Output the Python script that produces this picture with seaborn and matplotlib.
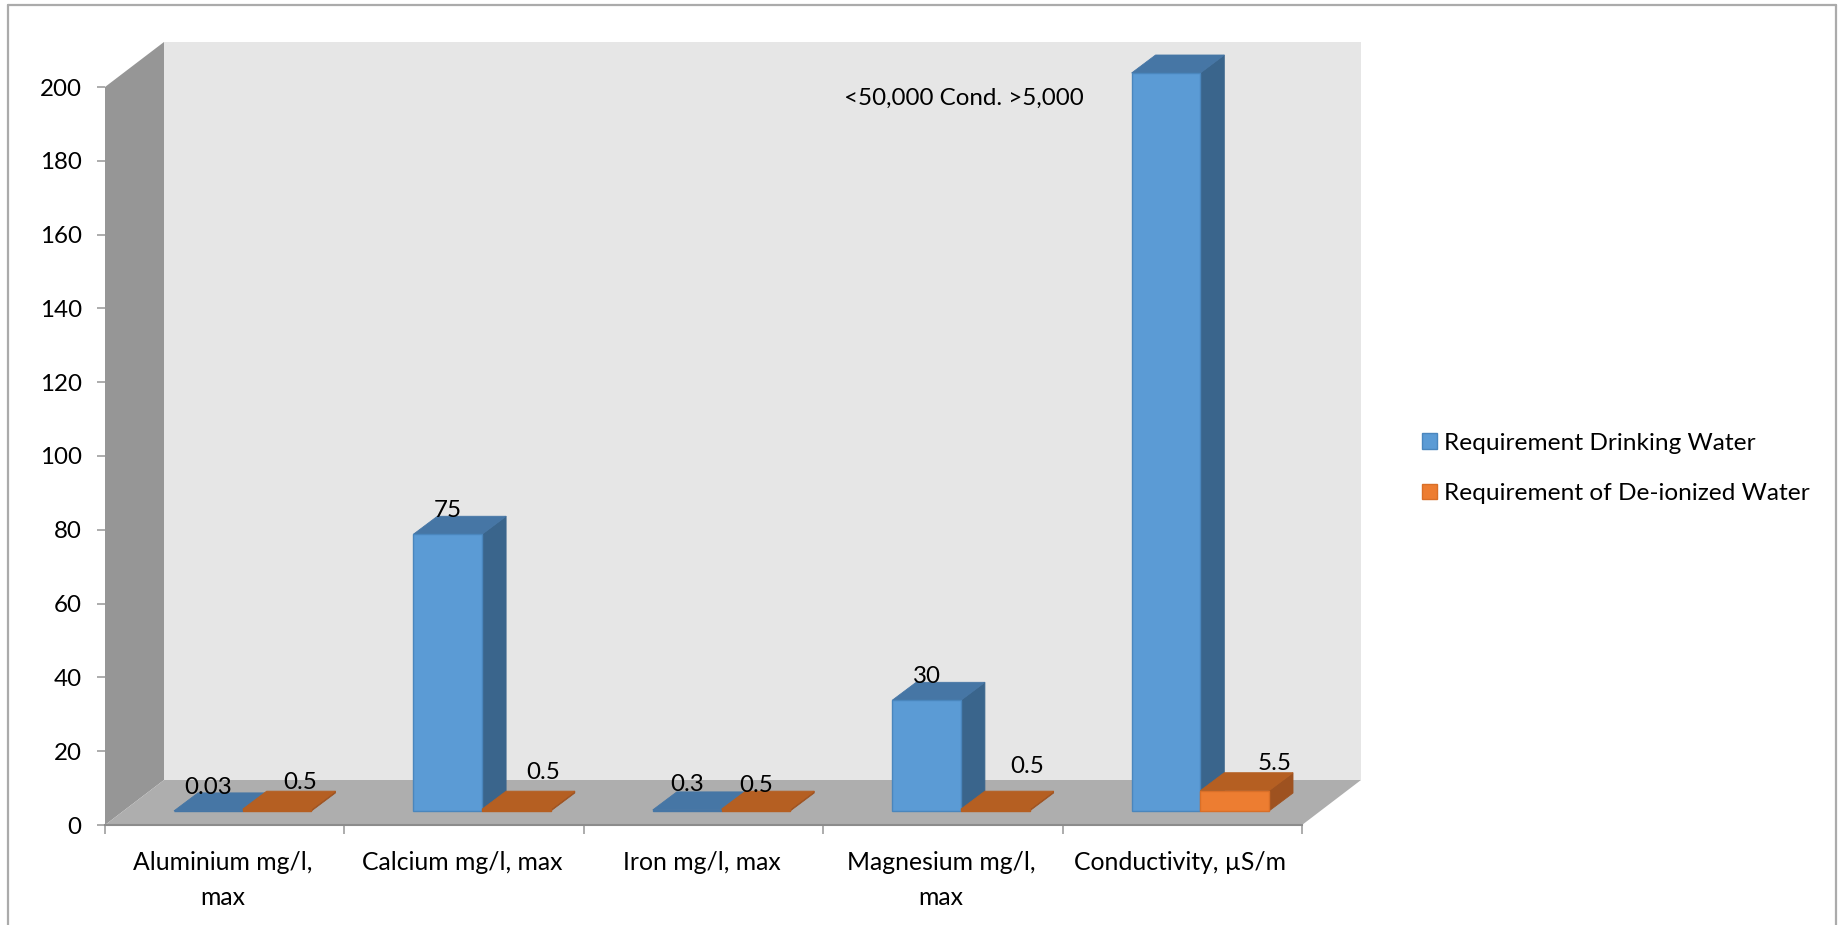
import matplotlib
matplotlib.use("Agg")
import matplotlib.pyplot as plt
import numpy as np
import pandas as pd
import seaborn as sns
from matplotlib.lines import Line2D
from matplotlib.patches import Polygon
from matplotlib.transforms import Affine2D, IdentityTransform

# ---- chart values ----
parameters = ["Aluminium mg/l, max", "Calcium mg/l, max", "Iron mg/l, max",
              "Magnesium mg/l, max", "Conductivity, µS/m"]
tick_labels = ["Aluminium mg/l,\nmax", "Calcium mg/l, max", "Iron mg/l, max",
               "Magnesium mg/l,\nmax", "Conductivity, µS/m"]
drinking_water = [0.03, 75, 0.3, 30, 200]
deionized_water = [0.5, 0.5, 0.5, 0.5, 5.5]
series_names = ["Requirement Drinking Water", "Requirement of De-ionized Water"]
y_ticks = list(range(0, 201, 20))
note_text = "<50,000 Cond. >5,000"

# ---- layout, in figure pixels ----
W, H = 1839, 925
AX_L, AX_R, AX_B, AX_T = 105, 1302, 825, 87
WALL_DX, WALL_DY = 59, 45      # depth of the floor and side wall
PLANE_DX, PLANE_DY = 18, 14    # bar fronts sit this far behind the axis plane
BAR_DX, BAR_DY = 24, 18        # depth of each column
BAR_SPAN = 0.574               # share of a category taken by the column pair

# Label offsets from the top-centre of each column's front face, in pixels
drinking_label_offsets = [(0, 23), (0, 24), (0, 25), (0, 24), None]
deionized_label_offsets = [(23, 27), (27, 37), (0, 24), (32, 43), (40, 27)]

BLUE = dict(front="#5B9BD5", edge="#4A86BD", top="#4676A5", side="#3A658C")
ORANGE = dict(front="#ED7D31", edge="#D96F28", top="#B55F22", side="#9E5220")
FONT = ["Lato", "DejaVu Sans"]
TEXT_SIZE = 17.4

sns.set_theme(style="white")
plt.rcParams["font.family"] = FONT

fig = plt.figure(figsize=(W / 100, H / 100), dpi=100, facecolor="white")


def axes_rect(dx=0, dy=0):
    return [(AX_L + dx) / W, 1 - (AX_B - dy) / H,
            (AX_R - AX_L) / W, (AX_B - AX_T) / H]


# Frame axes: carries the ticks and the walls of the box
ax = fig.add_axes(axes_rect(), facecolor="none", zorder=1)
ax.set_xlim(-0.5, 4.5)
ax.set_ylim(0, 200)
for spine in ax.spines.values():
    spine.set_visible(False)
ax.spines["bottom"].set_visible(True)
ax.spines["bottom"].set_color("#8C8C8C")
ax.spines["bottom"].set_linewidth(1.5)

ax.set_yticks(y_ticks)
ax.set_xticks(range(len(tick_labels)))
ax.set_xticklabels(tick_labels, linespacing=1.67)
ax.set_xticks(np.arange(-0.5, 5), minor=True)
ax.tick_params(axis="y", left=True, length=5.8, width=1.3, color="#A6A6A6",
               pad=11, labelsize=TEXT_SIZE, labelcolor="black")
ax.tick_params(axis="x", which="major", length=0, pad=18.5, labelsize=17.8,
               labelcolor="black")
ax.tick_params(axis="x", which="minor", bottom=True, length=6.5, width=1.3,
               color="#A6A6A6")
for label in ax.get_xticklabels():
    label.set_transform(label.get_transform() + Affine2D().translate(-2, 0))

# Back wall, side wall and floor, projected from the axis corners
corner = lambda x, y: ax.transData.transform((x, y))
bl, tl, br = corner(-0.5, 0), corner(-0.5, 200), corner(4.5, 0)
depth = np.array([WALL_DX, WALL_DY])
identity = IdentityTransform()
walls = [
    ([bl + depth, tl + depth, [br[0] + WALL_DX, tl[1] + WALL_DY], br + depth], "#E6E6E6"),
    ([bl, tl, tl + depth, bl + depth], "#969696"),
    ([bl, bl + depth, br + depth, br], "#AEAEAE"),
]
for verts, colour in walls:
    fig.add_artist(Polygon(verts, closed=True, facecolor=colour, edgecolor="none",
                           transform=identity, zorder=0))

# Bar axes: same scales, shifted back into the box
bar_ax = fig.add_axes(axes_rect(PLANE_DX, PLANE_DY), facecolor="none", zorder=2)
table = pd.DataFrame({
    "parameter": parameters * 2,
    "requirement": drinking_water + deionized_water,
    "series": [series_names[0]] * 5 + [series_names[1]] * 5,
})
sns.barplot(data=table, x="parameter", y="requirement", hue="series", order=parameters,
            hue_order=series_names, palette=[BLUE["front"], ORANGE["front"]],
            width=BAR_SPAN, gap=0, dodge=True, saturation=1, ax=bar_ax, errorbar=None)
bar_ax.set_xlim(-0.5, 4.5)
bar_ax.set_ylim(0, 200)
handles, labels = bar_ax.get_legend_handles_labels()
bar_ax.get_legend().remove()
bar_ax.axis("off")

# Give every column its top and side faces, working from left to right
columns = []
for container, style, values, offsets in zip(
        bar_ax.containers, (BLUE, ORANGE), (drinking_water, deionized_water),
        (drinking_label_offsets, deionized_label_offsets)):
    for rect, value, offset in zip(container.patches, values, offsets):
        columns.append((rect, style, value, offset))
columns.sort(key=lambda c: c[0].get_x())

for order, (rect, style, value, offset) in enumerate(columns):
    x0, x1 = rect.get_x(), rect.get_x() + rect.get_width()
    p0 = bar_ax.transData.transform((x0, 0))
    p1 = bar_ax.transData.transform((x1, value))
    z = 3 + order
    top = [(p0[0], p1[1]), (p1[0], p1[1]),
           (p1[0] + BAR_DX, p1[1] + BAR_DY), (p0[0] + BAR_DX, p1[1] + BAR_DY)]
    side = [(p1[0], p0[1]), (p1[0] + BAR_DX, p0[1] + BAR_DY),
            (p1[0] + BAR_DX, p1[1] + BAR_DY), (p1[0], p1[1])]
    for verts, colour in ((side, style["side"]), (top, style["top"])):
        bar_ax.add_patch(Polygon(verts, closed=True, facecolor=colour, edgecolor=colour,
                                 linewidth=0.6, transform=identity, zorder=z,
                                 clip_on=False))
    # A column only a pixel or two tall shows as nothing but its shaded top
    flat = p1[1] - p0[1] < 3
    rect.set_facecolor(style["top"] if flat else style["front"])
    rect.set_edgecolor(style["top"] if flat else style["edge"])
    rect.set_linewidth(1.0)
    rect.set_zorder(z + 0.5)
    rect.set_clip_on(False)
    if offset is not None:
        bar_ax.annotate(f"{value:g}", xy=((x0 + x1) / 2, value), xytext=offset,
                        textcoords="offset pixels", ha="center", va="center",
                        fontsize=TEXT_SIZE, color="black", zorder=50,
                        annotation_clip=False)

# Note beside the conductivity column
fig.text(964 / W, 1 - 98.5 / H, note_text, ha="center", va="center",
         fontsize=TEXT_SIZE, color="black", zorder=60)

# Legend with small square swatches
for handle, style in zip(handles, (BLUE, ORANGE)):
    handle.set_edgecolor(style["edge"])
legend = fig.legend(handles, labels, loc="center left",
                    bbox_to_anchor=(1422 / W, 1 - 468.5 / H), frameon=False,
                    fontsize=17.6, handlelength=0.62, handleheight=0.62,
                    handletextpad=0.3, labelspacing=1.2, borderpad=0, borderaxespad=0)
for text in legend.get_texts():
    text.set_color("black")

# Chart-area outline: top and both sides
outline = "#ABABAB"
for xs, ys in (([8, 8], [925, 5]), ([8, 1836], [5, 5]), ([1836, 1836], [5, 925])):
    fig.add_artist(Line2D(np.array(xs) / W, 1 - np.array(ys) / H, color=outline,
                          linewidth=1.6, transform=fig.transFigure, zorder=70))

fig.savefig("out.png", dpi=100, facecolor="white")
